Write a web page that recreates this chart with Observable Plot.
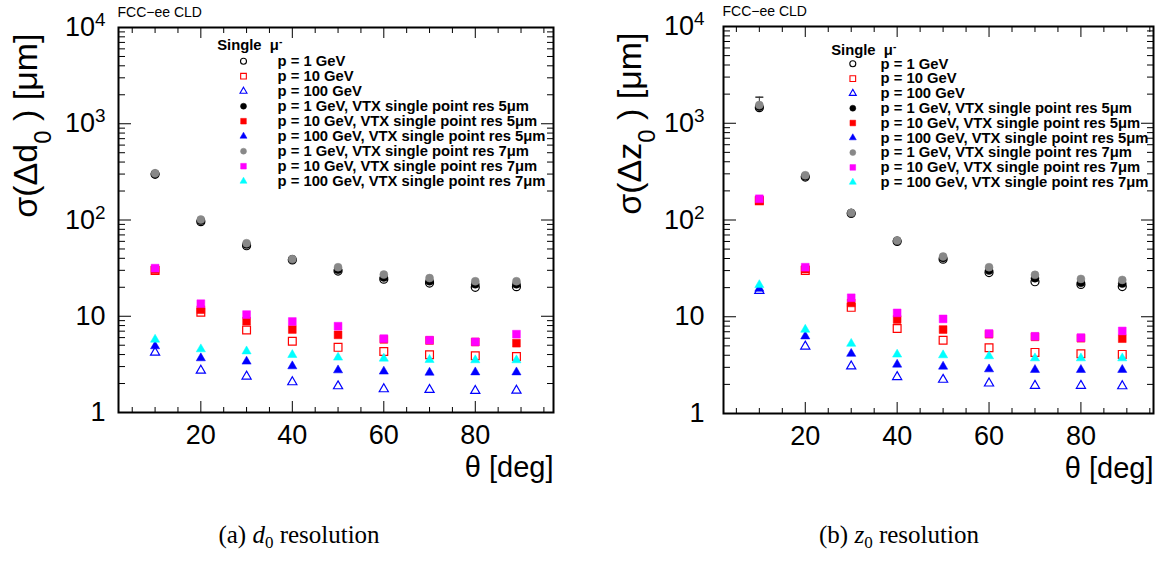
<!DOCTYPE html>
<html><head><meta charset="utf-8">
<script src="https://cdn.jsdelivr.net/npm/d3@7"></script>
<script src="https://cdn.jsdelivr.net/npm/@observablehq/plot@0.6"></script>
<style>
html,body{margin:0;padding:0;background:#fff;}
#wrap{position:relative;width:1168px;height:561px;overflow:hidden;font-family:"Liberation Sans",Arial,sans-serif;}
.panel{position:absolute;top:0;}
.cap{position:absolute;top:521px;font-family:"Liberation Serif","Times New Roman",serif;font-size:25px;text-align:center;line-height:28px;color:#000;}
.cap sub{font-size:17px;vertical-align:-5px;line-height:0;}
</style></head><body>
<div id="wrap">
 <div id="pa" class="panel" style="left:0"></div>
 <div id="pb" class="panel" style="left:584px"></div>
 <div class="cap" style="left:0;width:598px">(a) <i>d</i><sub>0</sub> resolution</div>
 <div class="cap" style="left:600px;width:598px">(b) <i>z</i><sub>0</sub> resolution</div>
</div>
<script>
// ---------- data ----------
const theta = [10, 20, 30, 40, 50, 60, 70, 80, 89];

// d0 resolution [um]
const d0_1GeV       = [298, 96, 54, 38.5, 29.5, 24.3, 22.1, 20.0, 20.3];
const d0_10GeV      = [29.9, 11.0, 7.2, 5.5, 4.75, 4.3, 3.98, 3.88, 3.82];
const d0_100GeV     = [4.2, 2.73, 2.37, 2.07, 1.88, 1.75, 1.72, 1.68, 1.69];
const d0_1GeV_5um   = [302, 98, 55.5, 39, 30.5, 25.3, 23.1, 21.5, 21.5];
const d0_10GeV_5um  = [30.5, 11.7, 8.9, 7.28, 6.41, 5.75, 5.6, 5.4, 5.25];
const d0_100GeV_5um = [4.89, 3.67, 3.39, 3.03, 2.75, 2.67, 2.60, 2.62, 2.62];
const d0_1GeV_7um   = [306, 101, 57.4, 39.3, 32.3, 27.1, 24.9, 23.1, 23.1];
const d0_10GeV_7um  = [31.6, 13.5, 10.4, 8.82, 7.88, 5.85, 5.65, 5.42, 6.51];
const d0_100GeV_7um = [5.73, 4.55, 4.33, 3.97, 3.73, 3.64, 3.53, 3.5, 3.5];

// z0 resolution [um]
const z0_1GeV       = [1450, 278, 117, 60, 39.4, 28.6, 23.0, 21.6, 20.5];
const z0_10GeV      = [158, 30.0, 12.5, 7.55, 5.71, 4.79, 4.28, 4.14, 4.08];
const z0_100GeV     = [18.6, 4.94, 3.08, 2.39, 2.24, 2.05, 1.94, 1.94, 1.92];
const z0_1GeV_5um   = [1480, 283, 118, 61, 40.5, 30, 25, 22.5, 22];
const z0_10GeV_5um  = [160, 31, 13.9, 9.36, 7.37, 6.6, 6.2, 6.0, 5.94];
const z0_100GeV_5um = [19.5, 6.28, 4.15, 3.21, 3.06, 2.87, 2.83, 2.83, 2.83];
const z0_1GeV_7um   = [1540, 290, 118.5, 61.5, 41.9, 32.5, 27.1, 24.6, 24.0];
const z0_10GeV_7um  = [165.7, 32.5, 15.7, 10.96, 9.5, 6.7, 6.28, 6.08, 7.13];
const z0_100GeV_7um = [21.3, 7.37, 5.27, 4.08, 4.01, 3.92, 3.73, 3.73, 3.73];
const z0_1GeV_7um_errLo = [190, 0, 0, 0, 0, 0, 0, 0, 0];
const z0_1GeV_7um_errHi = [320, 0, 0, 0, 0, 0, 0, 0, 0];

const seriesLabels = [
  "p = 1 GeV", "p = 10 GeV", "p = 100 GeV",
  "p = 1 GeV, VTX single point res 5μm",
  "p = 10 GeV, VTX single point res 5μm",
  "p = 100 GeV, VTX single point res 5μm",
  "p = 1 GeV, VTX single point res 7μm",
  "p = 10 GeV, VTX single point res 7μm",
  "p = 100 GeV, VTX single point res 7μm"
];
const yTicks = [1, 10, 100, 1000, 10000];
const yTickLabels = ["1", "10", "10^{2}", "10^{3}", "10^{4}"];
const xTicks = [20, 40, 60, 80];
const xTickLabels = ["20", "40", "60", "80"];

// marker styles (symbol, colour, filled)
const styles = [
  {symbol: "circle", color: "#000000", filled: false},
  {symbol: "square", color: "#ff0000", filled: false},
  {symbol: "triangle", color: "#0000ff", filled: false},
  {symbol: "circle", color: "#000000", filled: true},
  {symbol: "square", color: "#ff0000", filled: true},
  {symbol: "triangle", color: "#0000ff", filled: true},
  {symbol: "circle", color: "#888888", filled: true},
  {symbol: "square", color: "#ff00ff", filled: true},
  {symbol: "triangle", color: "#00ffff", filled: true}
];
const rData = {circle: 4, square: 4.4, triangle: 3.4};
const rLeg = {circle: 3, square: 3.2, triangle: 2.6};

const capSymbol = {draw(ctx, size) { const w = 4; ctx.moveTo(-w, 0); ctx.lineTo(w, 0); }};

function richify(root) {
  for (const t of root.querySelectorAll("text")) {
    const s = t.textContent;
    if (!/[_^]\{/.test(s)) continue;
    while (t.firstChild) t.removeChild(t.firstChild);
    const re = /([_^])\{([^}]*)\}|([^_^]+)/g;
    let m;
    while ((m = re.exec(s))) {
      const ts = document.createElementNS("http://www.w3.org/2000/svg", "tspan");
      if (m[3] !== undefined) ts.textContent = m[3];
      else {
        ts.textContent = m[2];
        ts.setAttribute("font-size", "0.7em");
        ts.setAttribute("baseline-shift", m[1] === "_" ? "sub" : "super");
      }
      t.appendChild(ts);
    }
  }
}

function dotMark(values, st, r) {
  return Plot.dot(values, {
    x: theta, y: values, symbol: st.symbol, r: r[st.symbol],
    fill: st.filled ? st.color : "none",
    stroke: st.color, strokeWidth: st.filled ? 0.5 : 1.2
  });
}

function panel(cfg) {
  const [x0, x1] = cfg.xDomain;
  const yMinor = [];
  for (let e = 0; e < 4; e++) for (let k = 2; k <= 9; k++) yMinor.push(k * Math.pow(10, e));
  const xMinor = [];
  for (let v = 5; v < x1; v += 5) if (v % 20 !== 0 && v > x0) xMinor.push(v);

  const marks = [
    Plot.frame({strokeWidth: 2}),
    Plot.axisY(yTicks, {anchor: "left", tickSize: 13, dx: 13, fill: "none", label: null}),
    Plot.axisY(yMinor, {anchor: "left", tickSize: 7, dx: 7, fill: "none", label: null}),
    Plot.axisY(yTicks, {anchor: "right", tickSize: 13, dx: -13, fill: "none", label: null}),
    Plot.axisY(yMinor, {anchor: "right", tickSize: 7, dx: -7, fill: "none", label: null}),
    Plot.axisX(xTicks, {anchor: "bottom", tickSize: 11, dy: -11, fill: "none", label: null}),
    Plot.axisX(xMinor, {anchor: "bottom", tickSize: 5, dy: -5, fill: "none", label: null}),
    Plot.axisX(xTicks, {anchor: "top", tickSize: 10, dy: 10, fill: "none", label: null}),
    Plot.axisX(xMinor, {anchor: "top", tickSize: 5, dy: 5, fill: "none", label: null}),
    Plot.axisY(yTicks, {anchor: "left", tickSize: 0, tickPadding: cfg.tickPad, fontSize: 27, label: null,
      tickFormat: d => yTickLabels[yTicks.indexOf(d)]}),
    Plot.axisX(xTicks, {anchor: "bottom", tickSize: 0, tickPadding: 12, fontSize: 27, label: null,
      tickFormat: d => xTickLabels[xTicks.indexOf(d)]}),
    Plot.text([cfg.yTitle], {frameAnchor: "top-left", rotate: -90, textAnchor: "end", lineAnchor: "middle",
      dx: cfg.titleDx, dy: 6, fontSize: 34}),
    Plot.text(["θ [deg]"], {frameAnchor: "bottom-right", textAnchor: "end", lineAnchor: "middle", dy: 55, fontSize: 29}),
    Plot.text(["FCC−ee CLD"], {frameAnchor: "top-left", textAnchor: "start", lineAnchor: "middle", dy: -15, dx: -1, fontSize: 14})
  ];
  if (cfg.err) {
    const v = cfg.err.values;
    marks.push(Plot.ruleX(v, {x: theta, y1: v.map((d, i) => d - cfg.err.lo[i]), y2: v.map((d, i) => d + cfg.err.hi[i]), stroke: "#333", strokeWidth: 1}));
    marks.push(Plot.dot(v, {x: theta, y: v.map((d, i) => d + cfg.err.hi[i]), symbol: capSymbol, r: 4, stroke: "#333", fill: "none", filter: (d, i) => cfg.err.hi[i] > 0}));
  }
  cfg.series.forEach((vals, i) => marks.push(dotMark(vals, styles[i], rData)));
  // legend
  const L = cfg.legend;
  marks.push(Plot.text(["Single  μ^{-}"], {frameAnchor: "top-left", textAnchor: "start", lineAnchor: "middle",
    dx: L.sx, dy: L.sy, fontSize: 14.8, fontWeight: "bold"}));
  seriesLabels.forEach((lab, i) => {
    const st = styles[i];
    marks.push(Plot.dot([lab], {frameAnchor: "top-left", dx: L.mx, dy: L.y0 + L.step * i,
      symbol: st.symbol, r: rLeg[st.symbol], fill: st.filled ? st.color : "none", stroke: st.color,
      strokeWidth: st.filled ? 0.5 : 1.1}));
    marks.push(Plot.text([lab], {frameAnchor: "top-left", textAnchor: "start", lineAnchor: "middle",
      dx: L.tx, dy: L.y0 + L.step * i, fontSize: 14.8, fontWeight: "bold"}));
  });

  const svg = Plot.plot({
    width: 584, height: 500,
    marginLeft: cfg.ml, marginRight: cfg.mr, marginTop: cfg.mt, marginBottom: cfg.mb,
    x: {type: "linear", domain: cfg.xDomain},
    y: {type: "log", domain: [1, 10000]},
    style: {fontFamily: "'Liberation Sans', Arial, Helvetica, sans-serif", color: "#000", background: "#fff", overflow: "visible"},
    marks
  });
  richify(svg);
  document.querySelector(cfg.el).appendChild(svg);
}

panel({
  el: "#pa", ml: 118, mr: 31, mt: 27, mb: 88, xDomain: [2, 97.1],
  yTitle: "σ(Δd_{0} ) [μm]", titleDx: -92, tickPad: 13,
  series: [d0_1GeV, d0_10GeV, d0_100GeV, d0_1GeV_5um, d0_10GeV_5um, d0_100GeV_5um, d0_1GeV_7um, d0_10GeV_7um, d0_100GeV_7um],
  legend: {sx: 98.7, sy: 18, mx: 125, tx: 159, y0: 33.7, step: 15}
});
panel({
  el: "#pb", ml: 139, mr: 15, mt: 26, mb: 87, xDomain: [2.2, 95.8],
  yTitle: "σ(Δz_{0} ) [μm]", titleDx: -93, tickPad: 19,
  series: [z0_1GeV, z0_10GeV, z0_100GeV, z0_1GeV_5um, z0_10GeV_5um, z0_100GeV_5um, z0_1GeV_7um, z0_10GeV_7um, z0_100GeV_7um],
  err: {values: z0_1GeV_7um, lo: z0_1GeV_7um_errLo, hi: z0_1GeV_7um_errHi},
  legend: {sx: 107.7, sy: 23.3, mx: 129.3, tx: 157, y0: 37.3, step: 14.8}
});
</script>
</body></html>
